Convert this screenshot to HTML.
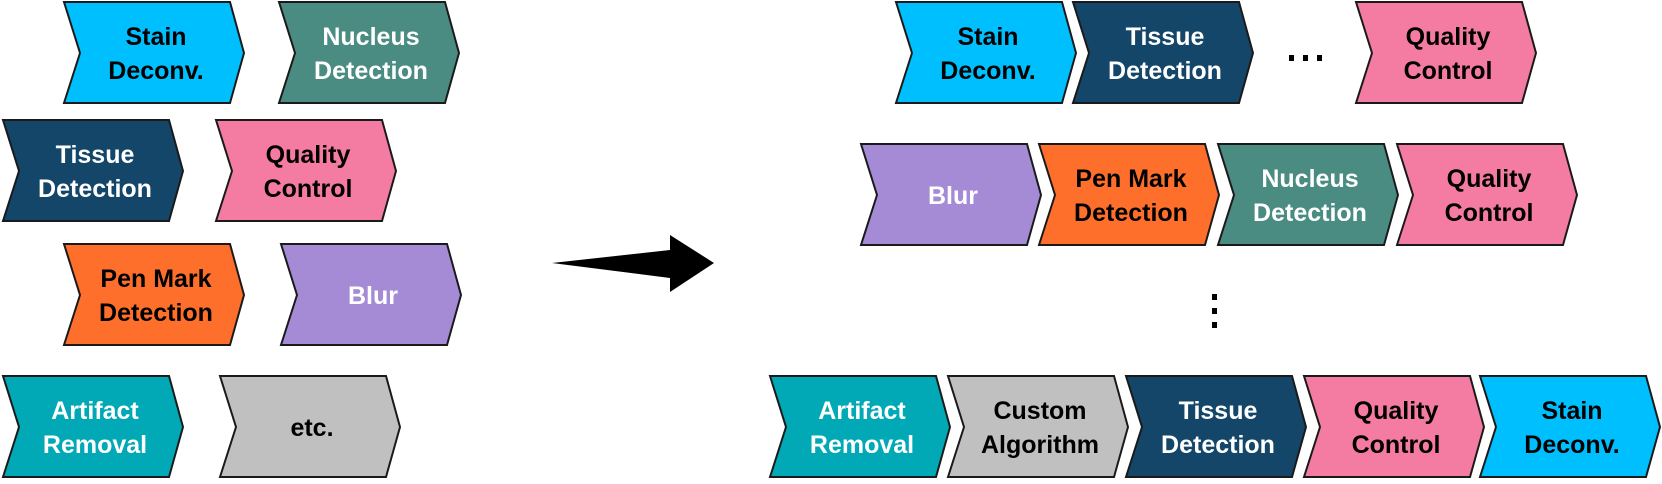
<!DOCTYPE html>
<html><head><meta charset="utf-8"><style>
html,body{margin:0;padding:0;background:#fff;}
svg text{font-family:"Liberation Sans",sans-serif;font-weight:bold;font-size:25px;text-anchor:middle;}
</style></head><body>
<svg width="1662" height="479" viewBox="0 0 1662 479" xmlns="http://www.w3.org/2000/svg">
<g id="shapes"></g>
<polygon points="552,263 670,250 670,235 714,263 670,292 670,278" fill="#000"/>
<g fill="#000">
<rect x="1289" y="55" width="5" height="6"/><rect x="1303" y="55" width="5" height="6"/><rect x="1317" y="55" width="5" height="6"/>
<rect x="1212" y="294" width="5" height="6"/><rect x="1212" y="308" width="5" height="6"/><rect x="1212" y="322" width="5" height="6"/>
</g>
<script>
const items=[
[64,2,"#00BFFF","#000",["Stain","Deconv."]],
[279,2,"#4A8C82","#fff",["Nucleus","Detection"]],
[3,120,"#134668","#fff",["Tissue","Detection"]],
[216,120,"#F47BA1","#000",["Quality","Control"]],
[64,244,"#FF6F2C","#000",["Pen Mark","Detection"]],
[281,244,"#A58BD6","#fff",["Blur"]],
[3,376,"#00A9B5","#fff",["Artifact","Removal"]],
[220,376,"#C0C0C0","#000",["etc."]],
[896,2,"#00BFFF","#000",["Stain","Deconv."]],
[1073,2,"#134668","#fff",["Tissue","Detection"]],
[1356,2,"#F47BA1","#000",["Quality","Control"]],
[861,144,"#A58BD6","#fff",["Blur"]],
[1039,144,"#FF6F2C","#000",["Pen Mark","Detection"]],
[1218,144,"#4A8C82","#fff",["Nucleus","Detection"]],
[1397,144,"#F47BA1","#000",["Quality","Control"]],
[770,376,"#00A9B5","#fff",["Artifact","Removal"]],
[948,376,"#C0C0C0","#000",["Custom","Algorithm"]],
[1126,376,"#134668","#fff",["Tissue","Detection"]],
[1304,376,"#F47BA1","#000",["Quality","Control"]],
[1480,376,"#00BFFF","#000",["Stain","Deconv."]]
];
const NS="http://www.w3.org/2000/svg";
const g=document.getElementById("shapes");
for(const [x,y,f,tc,lines] of items){
 const p=document.createElementNS(NS,"polygon");
 p.setAttribute("points",`${x},${y} ${x+166},${y} ${x+180},${y+51} ${x+166},${y+101} ${x},${y+101} ${x+16},${y+51}`);
 p.setAttribute("fill",f);p.setAttribute("stroke","#1a1a1a");p.setAttribute("stroke-width","2");
 g.appendChild(p);
 const cx=x+92;
 if(lines.length==1){
  const t=document.createElementNS(NS,"text");t.setAttribute("x",cx);t.setAttribute("y",y+60);t.setAttribute("fill",tc);t.textContent=lines[0];g.appendChild(t);
 }else{
  lines.forEach((s,i)=>{const t=document.createElementNS(NS,"text");t.setAttribute("x",cx);t.setAttribute("y",y+43+i*34);t.setAttribute("fill",tc);t.textContent=s;g.appendChild(t);});
 }
}
</script>
</svg>
</body></html>
